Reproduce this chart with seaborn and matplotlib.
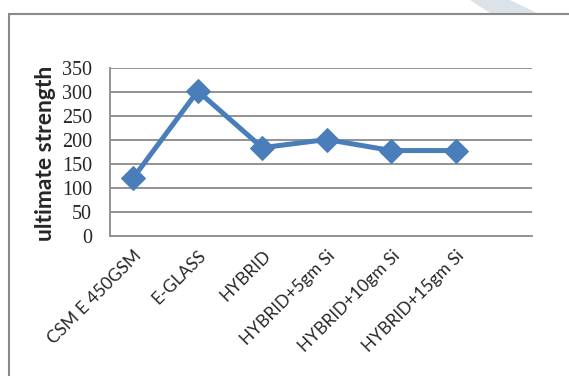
import matplotlib
matplotlib.use("Agg")
import matplotlib.pyplot as plt
from matplotlib.lines import Line2D
from matplotlib.patches import Polygon
import numpy as np
import pandas as pd
import seaborn as sns

categories = ['CSM E 450GSM', 'E-GLASS', 'HYBRID', 'HYBRID+5gm Si',
              'HYBRID+10gm Si', 'HYBRID+15gm Si']
strength = [121, 302, 184, 201, 178, 178]
y_ticks = [0, 50, 100, 150, 200, 250, 300, 350]

df = pd.DataFrame({'pos': np.arange(len(categories)), 'strength': strength})

sns.set_style('white')
plt.rcParams['font.family'] = ['Lato', 'DejaVu Sans']

W, H = 569, 376
fig = plt.figure(figsize=(W / 100, H / 100), dpi=100)
ax = fig.add_axes([110 / W, 1 - 236 / H, 422 / W, 168 / H])

grey = '#8a8a8a'
blue = '#4a7ebb'

# light decoration strip top right and the outer chart frame
fig.patches.append(Polygon([(470 / W, 1), (510 / W, 1), (537 / W, 1 - 13 / H),
                            (490 / W, 1 - 13 / H)], closed=True,
                           transform=fig.transFigure, facecolor='#dbe3e8',
                           edgecolor='none'))
fig.lines.append(Line2D([9 / W, 1], [1 - 14 / H, 1 - 14 / H],
                        transform=fig.transFigure, color=grey, lw=1.5))
fig.lines.append(Line2D([9 / W, 9 / W], [0, 1 - 14 / H],
                        transform=fig.transFigure, color=grey, lw=1.5))

for v in y_ticks[1:]:
    ax.axhline(v, color=grey, lw=1.3, zorder=1)

sns.lineplot(data=df, x='pos', y='strength', ax=ax, color=blue, lw=3.6,
             marker='D', markersize=12, markeredgecolor=blue, zorder=3)

ax.set_xlim(-0.36, 6.18)
ax.set_ylim(0, 350)
ax.set_yticks(y_ticks)
ax.set_yticklabels([str(v) for v in y_ticks], family='Liberation Serif',
                   fontsize=14.5)
ax.set_xticks(df['pos'])
ax.set_xticklabels(categories, rotation=45, ha='right', va='top',
                   rotation_mode='anchor', fontsize=12.5)
ax.tick_params(axis='y', length=0, pad=13)
ax.tick_params(axis='x', length=0, pad=8)

for s in ['top', 'right']:
    ax.spines[s].set_visible(False)
for s in ['left', 'bottom']:
    ax.spines[s].set_color(grey)
    ax.spines[s].set_linewidth(1.3)

ax.set_xlabel('')
ax.set_ylabel('ultimate strength', fontsize=16.5, fontweight='bold')
ax.yaxis.set_label_coords(-0.128, 0.49)

fig.savefig('out.png', dpi=100)
